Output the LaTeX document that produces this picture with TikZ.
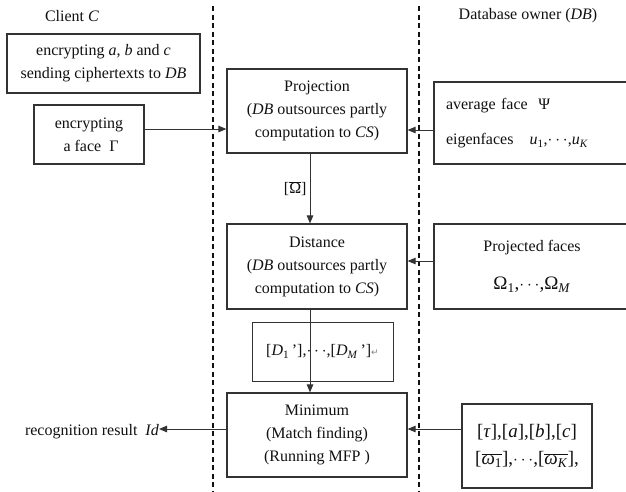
\documentclass[tikz,border=0pt]{standalone}
\usepackage{fontspec}
\setmainfont{Liberation Serif}
\newfontfamily\symfont{DejaVu Sans}
\usetikzlibrary{arrows.meta}
\definecolor{linec}{HTML}{333333}
\definecolor{textc}{HTML}{111111}
\newcommand\ovl[1]{$\overline{\hbox{#1}}$}
\begin{document}
\begin{tikzpicture}[x=1pt,y=-1pt,
  font=\fontsize{16}{23}\selectfont,
  every node/.style={text=textc},
  box/.style={draw=linec, line width=1.2pt, align=center, inner sep=0pt},
  lbl/.style={inner sep=0pt},
  arr/.style={draw=linec, line width=1pt, -{Triangle[length=8pt,width=6.5pt]}},
  sep/.style={draw=textc, line width=1.1pt, dash pattern=on 5pt off 3.5pt}]
\useasboundingbox (0,0) rectangle (626,491);
\clip (0,0) rectangle (626,491);
\fill[white] (0,0) rectangle (626,491);

% lane separators
\coordinate (s1t) at (213,6);
\coordinate (s1b) at (213,491);
\coordinate (s2t) at (419,6);
\coordinate (s2b) at (419,491);
\draw[sep] (s1t) -- (s1b);
\draw[sep] (s2t) -- (s2b);

% lane titles
\node[lbl] (client) at (72,16) {Client \textit{C}};
\node[lbl] (dbo) at (528,16) {Database owner (\textit{DB})};

% client side
\node[box, minimum width=193pt, minimum height=59pt] (enc1) at (103.5,63.5)
  {encrypting \textit{a}, \textit{b} and \textit{c}\\sending ciphertexts to \textit{DB}};
\node[box, minimum width=110pt, minimum height=59pt] (enc2) at (89,134.5)
  {encrypting\\\hspace*{4pt}a face~~Γ};
\node[lbl, anchor=east] (res) at (159,432) {recognition result~~\textit{Id}};

% middle column
\node[box, minimum width=180pt, minimum height=84pt] (proj) at (317,111)
  {Projection\\(\textit{DB} outsources partly\\computation to \textit{CS})};
\node[box, minimum width=180pt, minimum height=85pt] (dist) at (317,266.5)
  {Distance\\(\textit{DB} outsources partly\\computation to \textit{CS})};
\node[box, line width=1pt, minimum width=141pt, minimum height=59pt] (dlist) at (322.5,351.5)
  {[\textit{D}\textsubscript{1}\,'],$\cdots$,[\textit{D}\textsubscript{\textit{M}}\,']{\symfont\fontsize{9}{9}\selectfont\color{gray}↵}};
\node[box, minimum width=180pt, minimum height=84pt] (minb) at (317,435)
  {Minimum\\(Match finding)\\(Running MFP )};

% database owner side
\node[box, minimum width=196pt, minimum height=82pt, text width=172pt, inner xsep=12pt,
  align=left, font=\fontsize{16}{35}\selectfont] (avg) at (532,123)
  {average face~~Ψ\\eigenfaces~~~\textit{u}\textsubscript{1},$\cdots$,\textit{u}\textsubscript{\textit{K}}};
\node[box, minimum width=196pt, minimum height=85pt, font=\fontsize{16}{38}\selectfont] (projf) at (532,266.5)
  {Projected faces\\{\fontsize{19}{19}\selectfont Ω\textsubscript{1},$\cdots$,Ω\textsubscript{\textit{M}}}};
\node[box, minimum width=130pt, minimum height=84pt, font=\fontsize{19}{27}\selectfont] (rb) at (527,446)
  {[\textit{τ}],[\textit{a}],[\textit{b}],[\textit{c}]\\{}%
   [\ovl{\textit{ω}\textsubscript{1}}],$\cdots$,[\ovl{\textit{ω}\textsubscript{\textit{K}}}],};

% connectors
\draw[arr] ([yshift=5.5pt]enc2.east) -- ([yshift=5.5pt]enc2.east -| proj.west);
\draw[arr] ([yshift=-7pt]avg.west) -- ([yshift=-7pt]avg.west -| proj.east);
\draw[arr] ([xshift=-7pt]proj.south) -- node[left, inner sep=3pt] (omb) {[\ovl{Ω}]} ([xshift=-7pt]proj.south |- dist.north);
\draw[arr] ([yshift=5.5pt]projf.west) -- ([yshift=5.5pt]projf.west -| dist.east);
\draw[arr] ([xshift=-7pt]dist.south) -- ([xshift=-7pt]dist.south |- minb.north);
\draw[arr] ([yshift=17pt]rb.west) -- ([yshift=17pt]rb.west -| minb.east);
\draw[arr] ([yshift=6pt]minb.west) -- ([yshift=6pt]minb.west -| res.east);
\end{tikzpicture}
\end{document}
